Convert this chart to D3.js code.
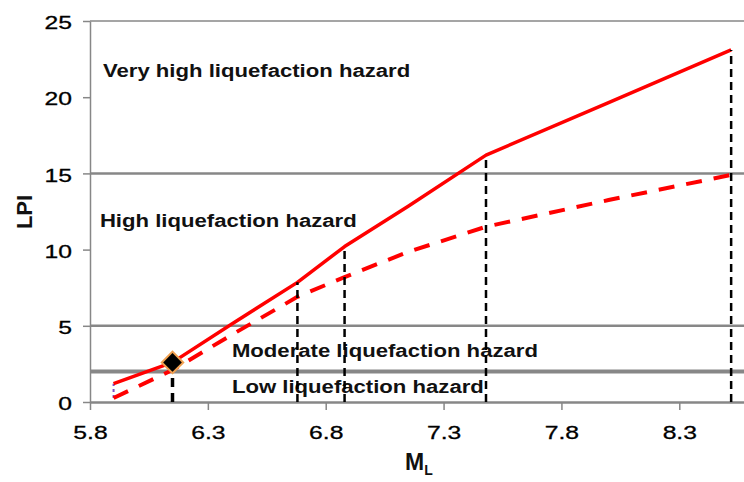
<!DOCTYPE html>
<html>
<head>
<meta charset="utf-8">
<script src="https://cdn.jsdelivr.net/npm/d3@7"></script>
<style>
body{margin:0;background:#fff;}
svg{display:block;}
</style>
</head>
<body>
<script>
// LPI against local magnitude M_L
var magnitudes = [5.9, 6.15, 6.4, 6.68, 6.88, 7.15, 7.48, 8.0, 8.52];
var lpiSolid   = [1.2, 2.6, 5.1, 7.85, 10.2, 12.85, 16.2, 19.65, 23.1];
var lpiDashed  = [0.26, 2.1, 4.4, 6.9, 8.2, 9.85, 11.5, 13.25, 14.9];

// drop lines from the solid curve down to the axis
var dropM   = [6.15, 6.68, 6.88, 7.48, 8.52];
var dropLPI = [2.6, 7.85, 10.2, 16.2, 23.1];

// the marked point
var pointM   = [6.15];
var pointLPI = [2.6];

var hazardLevels = [2, 5, 15];
var hazardLabels = ["Very high liquefaction hazard", "High liquefaction hazard",
                    "Moderate liquefaction hazard", "Low liquefaction hazard"];

var xTicks = [5.8, 6.3, 6.8, 7.3, 7.8, 8.3];
var yTicks = [0, 5, 10, 15, 20, 25];

function draw_chart(){

	var width = 744;
	var height = 482;
	var gray = "#878787";
	var font = "'Liberation Sans', Arial, sans-serif";
	var sx = 1.23;   // the original picture is stretched sideways
	var sxTick = 1.3;

	var x = d3.scaleLinear().domain([5.8, 8.6]).range([90, 750]);
	var y = d3.scaleLinear().domain([0, 25]).range([402, 21]);

	var svg = d3.select("body").append("svg")
				.attr("width", width)
				.attr("height", height)
				.style("background", "#fff");

	// top border of the plot
	svg.append("line")
		.attr("x1", x(5.8)).attr("x2", width)
		.attr("y1", y(25)).attr("y2", y(25))
		.attr("stroke", gray).attr("stroke-width", 1.6);

	// hazard boundaries
	svg.selectAll("line.hazard")
		.data(hazardLevels)
		.enter()
			.append("line")
			.attr("class", "hazard")
			.attr("x1", x(5.8)).attr("x2", width)
			.attr("y1", function(d){return y(d)})
			.attr("y2", function(d){return y(d)})
			.attr("stroke", gray)
			.attr("stroke-width", function(d){return d == 2 ? 4 : 2.5});

	// axes
	var yAxis = d3.axisLeft(y).tickValues(yTicks).tickSize(7).tickSizeOuter(0);
	var gy = svg.append("g")
				.attr("transform", "translate(" + x(5.8) + ",0)")
				.attr("font-family", font)
				.call(yAxis);
	gy.select(".domain").attr("stroke", gray).attr("stroke-width", 1.5);
	gy.selectAll(".tick line").attr("stroke", gray).attr("stroke-width", 1.5);
	gy.selectAll(".tick text")
		.attr("font-size", 19)
		.attr("fill", "#000")
		.attr("stroke", "#000").attr("stroke-width", 0.3)
		.attr("x", -18 / sxTick)
		.attr("dy", "0.4em")
		.attr("transform", "scale(" + sxTick + ",1)");

	var xAxis = d3.axisBottom(x).tickValues(xTicks).tickFormat(d3.format(".1f"))
				.tickSize(8).tickSizeOuter(0).tickPadding(16);
	var gx = svg.append("g")
				.attr("transform", "translate(0," + y(0) + ")")
				.attr("font-family", font)
				.call(xAxis);
	gx.select(".domain").attr("stroke", gray).attr("stroke-width", 2.5);
	gx.selectAll(".tick line").attr("stroke", gray).attr("stroke-width", 1.5);
	gx.selectAll(".tick text")
		.attr("font-size", 19)
		.attr("fill", "#000")
		.attr("stroke", "#000").attr("stroke-width", 0.3)
		.attr("transform", "scale(" + sxTick + ",1)");

	// hazard zone names (anchored in data units)
	var labelM   = [5.855, 5.842, 6.402, 6.402];
	var labelLPI = [21.33, 11.48, 2.95, 0.59];
	svg.selectAll("text.zone")
		.data(hazardLabels)
		.enter()
			.append("text")
			.attr("class", "zone")
			.attr("transform", function(d, i){
				return "translate(" + x(labelM[i]) + "," + y(labelLPI[i]) + ") scale(" + sx + ",1)";
			})
			.attr("font-family", font)
			.attr("font-size", 18)
			.attr("font-weight", "bold")
			.attr("fill", "#111")
			.text(function(d){return d});

	// the two LPI curves
	var line = d3.line()
				.x(function(d){return x(d[0])})
				.y(function(d){return y(d[1])});

	var solid = magnitudes.map(function(m, i){return [m, lpiSolid[i]]});
	var dashed = magnitudes.map(function(m, i){return [m, lpiDashed[i]]});

	// small purple link between the first two points
	svg.append("line")
		.attr("x1", x(magnitudes[0])).attr("x2", x(magnitudes[0]))
		.attr("y1", y(lpiDashed[0])).attr("y2", y(lpiSolid[0]))
		.attr("stroke", "#7b4fc9").attr("stroke-width", 2)
		.attr("stroke-dasharray", "3,3");

	svg.append("path")
		.attr("d", line(dashed))
		.attr("fill", "none")
		.attr("stroke", "#ff0000")
		.attr("stroke-width", 4)
		.attr("stroke-linejoin", "round")
		.attr("stroke-dasharray", "16,12");

	svg.append("path")
		.attr("d", line(solid))
		.attr("fill", "none")
		.attr("stroke", "#ff0000")
		.attr("stroke-width", 3.5)
		.attr("stroke-linejoin", "round");

	// vertical drop lines
	svg.selectAll("line.drop")
		.data(dropM)
		.enter()
			.append("line")
			.attr("class", "drop")
			.attr("x1", function(d){return x(d)})
			.attr("x2", function(d){return x(d)})
			.attr("y1", y(0))
			.attr("y2", function(d, i){return y(dropLPI[i])})
			.attr("stroke", "#000")
			.attr("stroke-width", function(d, i){return i == 0 ? 3.5 : 2.5})
			.attr("stroke-dasharray", function(d, i){return i == 0 ? "9,6" : "8,5"});

	// diamond marker
	svg.selectAll("path.point")
		.data(pointM)
		.enter()
			.append("path")
			.attr("class", "point")
			.attr("d", d3.symbol().type(d3.symbolSquare).size(230))
			.attr("transform", function(d, i){
				return "translate(" + x(d) + "," + y(pointLPI[i]) + ") rotate(45)";
			})
			.attr("fill", "#000")
			.attr("stroke", "#f0a050")
			.attr("stroke-width", 2);

	// axis titles
	svg.append("text")
		.attr("transform", "translate(32,212) rotate(-90)")
		.attr("text-anchor", "middle")
		.attr("font-family", font)
		.attr("font-size", 22)
		.attr("font-weight", "bold")
		.attr("fill", "#111")
		.text("LPI");

	var xt = svg.append("text")
				.attr("x", 405)
				.attr("y", 470)
				.attr("font-family", font)
				.attr("font-size", 23)
				.attr("font-weight", "bold")
				.attr("fill", "#111");
	xt.append("tspan").text("M");
	xt.append("tspan").attr("font-size", 14).attr("dy", 5).text("L");
}

draw_chart();
</script>
</body>
</html>
